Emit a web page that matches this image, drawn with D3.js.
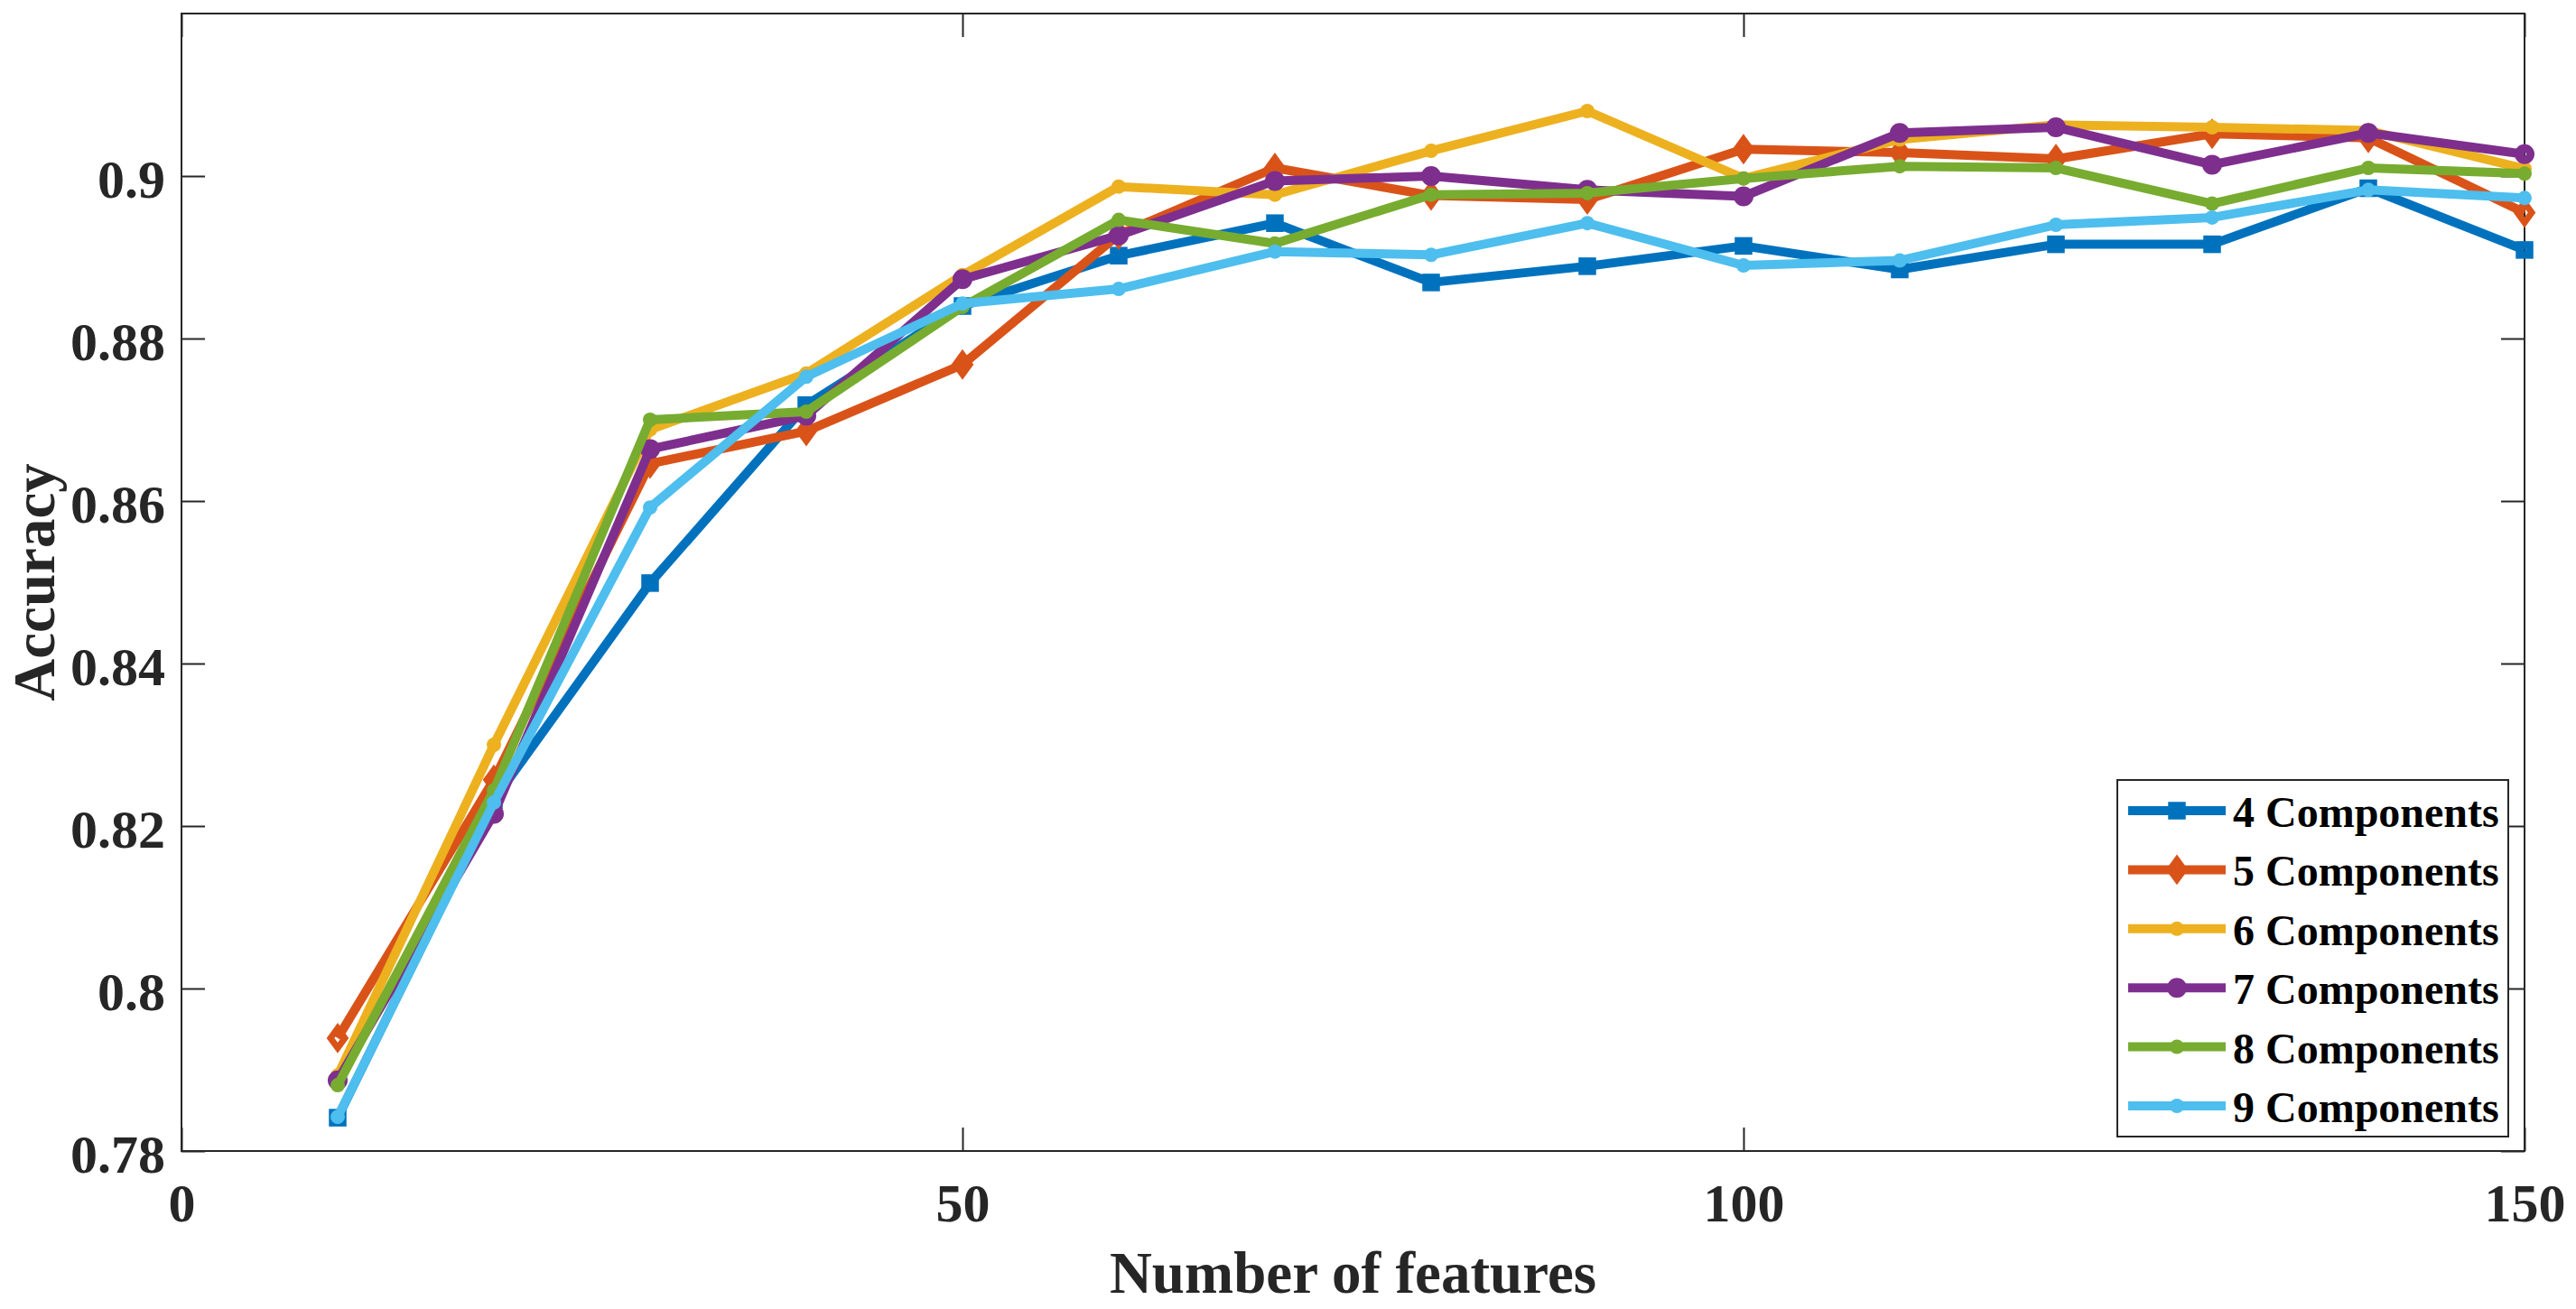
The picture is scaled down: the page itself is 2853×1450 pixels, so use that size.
<!DOCTYPE html>
<html><head><meta charset="utf-8">
<script src="https://cdn.jsdelivr.net/npm/d3@7"></script>
<style>
body{margin:0;background:#fff}
svg{display:block}
text{font-family:"Liberation Serif","Times New Roman",serif;font-weight:bold}
</style>
</head><body>
<svg id="chart" width="2853" height="1450"></svg>
<script>
// ---------------- data ----------------
const features = [10,20,30,40,50,60,70,80,90,100,110,120,130,140,150];
const acc4 = [0.7841,0.8232,0.8499,0.8718,0.8840,0.8902,0.8942,0.8869,0.8889,0.8914,0.8885,0.8916,0.8916,0.8985,0.8909];
const acc5 = [0.7939,0.8257,0.8646,0.8686,0.8768,0.8928,0.9010,0.8976,0.8971,0.9033,0.9029,0.9021,0.9052,0.9047,0.8955];
const acc6 = [0.7893,0.8300,0.8688,0.8757,0.8878,0.8987,0.8977,0.9031,0.9080,0.8997,0.9045,0.9063,0.9060,0.9056,0.9009];
const acc7 = [0.7887,0.8215,0.8664,0.8705,0.8873,0.8927,0.8994,0.9000,0.8983,0.8975,0.9053,0.9060,0.9014,0.9053,0.9027];
const acc8 = [0.7881,0.8244,0.8700,0.8710,0.8839,0.8946,0.8917,0.8977,0.8979,0.8997,0.9012,0.9010,0.8966,0.9010,0.9003];
const acc9 = [0.7842,0.8229,0.8592,0.8753,0.8843,0.8861,0.8907,0.8903,0.8942,0.8890,0.8896,0.8940,0.8949,0.8983,0.8973];
const seriesNames = ["4 Components","5 Components","6 Components","7 Components","8 Components","9 Components"];
const seriesValues = [acc4,acc5,acc6,acc7,acc8,acc9];
const seriesColors = ["#0072BD","#D95319","#EDB120","#7E2F8E","#77AC30","#4DBEEE"];
const seriesMarkers = ["square","diamond","dot","circle","dot","dot"];
const xTicks = [0,50,100,150];
const xTickLabels = ["0","50","100","150"];
const yTicks = [0.78,0.80,0.82,0.84,0.86,0.88,0.90];
const yTickLabels = ["0.78","0.8","0.82","0.84","0.86","0.88","0.9"];
const xTitle = "Number of features";
const yTitle = "Accuracy";

// ---------------- layout ----------------
const L = 201, R = 2796, T = 15, B = 1275;
const svg = d3.select("#chart");
const x = d3.scaleLinear().domain([0,150]).range([L,R]);
const y = d3.scaleLinear().domain([0.78,0.92]).range([B,T]);
const axisColor = "#262626";
const tickLen = 26;

function styleAxis(g){
  g.attr("font-family",null);
  g.select(".domain").remove();
  g.selectAll(".tick line").attr("stroke",axisColor).attr("stroke-width",2);
  g.selectAll("text").attr("fill",axisColor).attr("font-size",60);
}
const gx = svg.append("g").attr("transform",`translate(0,${B})`)
  .call(d3.axisBottom(x).tickValues(xTicks).tickFormat((d,i)=>xTickLabels[i]).tickSizeInner(-tickLen).tickSizeOuter(0));
styleAxis(gx);
gx.selectAll("text").attr("y",78).attr("dy",0);
const gxt = svg.append("g").attr("transform",`translate(0,${T})`)
  .call(d3.axisTop(x).tickValues(xTicks).tickFormat("").tickSizeInner(-tickLen).tickSizeOuter(0));
styleAxis(gxt);
const gy = svg.append("g").attr("transform",`translate(${L},0)`)
  .call(d3.axisLeft(y).tickValues(yTicks).tickFormat((d,i)=>yTickLabels[i]).tickSizeInner(-tickLen).tickSizeOuter(0).tickPadding(18));
styleAxis(gy);
gy.selectAll("text").attr("dy",0).attr("y",23);
const gyr = svg.append("g").attr("transform",`translate(${R},0)`)
  .call(d3.axisRight(y).tickValues(yTicks).tickFormat("").tickSizeInner(-tickLen).tickSizeOuter(0));
styleAxis(gyr);

svg.append("rect").attr("x",L).attr("y",T).attr("width",R-L).attr("height",B-T)
  .attr("fill","none").attr("stroke",axisColor).attr("stroke-width",2);

// titles
svg.append("text").attr("x",(L+R)/2).attr("y",1432).attr("text-anchor","middle")
  .attr("font-size",65).attr("fill",axisColor).text(xTitle);
svg.append("text").attr("transform",`translate(60,${(T+B)/2}) rotate(-90)`).attr("text-anchor","middle")
  .attr("font-size",65).attr("fill",axisColor).text(yTitle);

// markers
function drawMarker(g, type, cx, cy, color){
  if(type==="square"){
    g.append("rect").attr("x",cx-5.5).attr("y",cy-5.5).attr("width",11).attr("height",11)
      .attr("fill","none").attr("stroke",color).attr("stroke-width",8.5).attr("stroke-linejoin","miter");
  } else if(type==="diamond"){
    g.append("path").attr("d",`M${cx},${cy-11}L${cx+8},${cy}L${cx},${cy+11}L${cx-8},${cy}Z`)
      .attr("fill","none").attr("stroke",color).attr("stroke-width",7).attr("stroke-linejoin","miter").attr("stroke-miterlimit",10);
  } else if(type==="circle"){
    g.append("circle").attr("cx",cx).attr("cy",cy).attr("r",6.5)
      .attr("fill","none").attr("stroke",color).attr("stroke-width",9);
  } else {
    g.append("circle").attr("cx",cx).attr("cy",cy).attr("r",8).attr("fill",color);
  }
}

const line = d3.line().x(d=>x(d[0])).y(d=>y(d[1]));
seriesValues.forEach((vals,si)=>{
  const g = svg.append("g");
  const pts = features.map((f,i)=>[f,vals[i]]);
  g.append("path").attr("d",line(pts)).attr("fill","none").attr("stroke",seriesColors[si])
    .attr("stroke-width",10).attr("stroke-linejoin","round").attr("stroke-linecap","butt");
  pts.forEach(p=>drawMarker(g, seriesMarkers[si], x(p[0]), y(p[1]), seriesColors[si]));
});

// legend
const lg = svg.append("g");
const lx = 2345, ly = 864, lw = 433, lh = 395;
lg.append("rect").attr("x",lx).attr("y",ly).attr("width",lw).attr("height",lh)
  .attr("fill","#fff").attr("stroke",axisColor).attr("stroke-width",2);
seriesNames.forEach((name,i)=>{
  const ry = 898 + i*65.4;
  lg.append("line").attr("x1",lx+12).attr("x2",lx+120).attr("y1",ry).attr("y2",ry)
    .attr("stroke",seriesColors[i]).attr("stroke-width",10);
  drawMarker(lg, seriesMarkers[i], lx+66, ry, seriesColors[i]);
  lg.append("text").attr("x",lx+128).attr("y",ry+18).attr("font-size",48).attr("fill","#000").text(name);
});
</script>
</body></html>
